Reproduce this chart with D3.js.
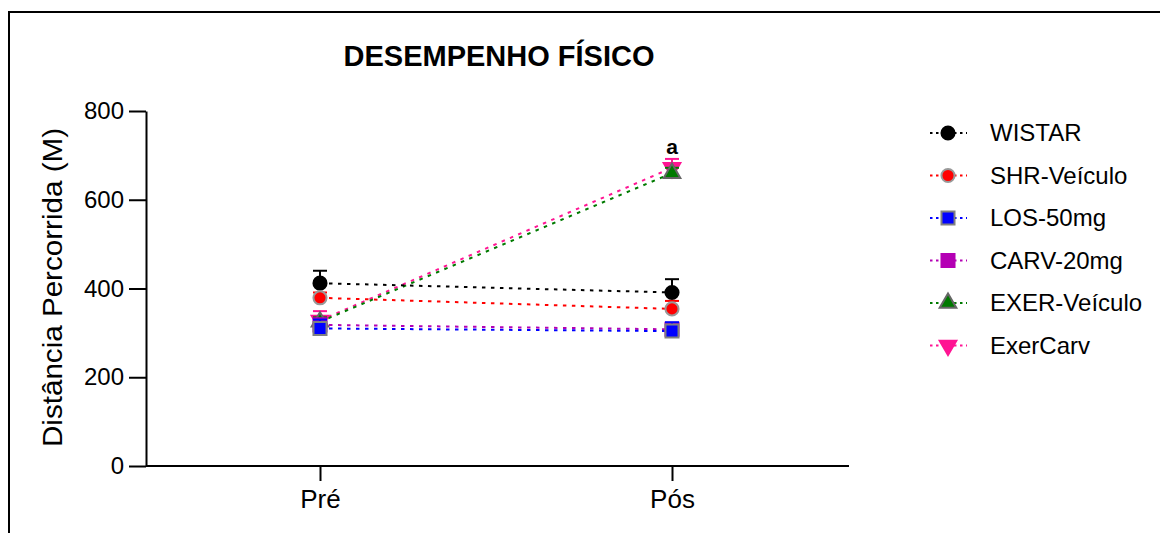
<!DOCTYPE html>
<html>
<head>
<meta charset="utf-8">
<script src="https://cdn.jsdelivr.net/npm/d3@7"></script>
<style>
  body { margin: 0; background: #fff; }
  text { font-family: "Liberation Sans", Arial, sans-serif; }
</style>
</head>
<body>
<div id="chart"></div>
<script>
// data
const timepoints = ["Pré", "Pós"];
const groups = ["WISTAR", "SHR-Veículo", "LOS-50mg", "CARV-20mg", "EXER-Veículo", "ExerCarv"];
const means = [
  [412, 391],
  [379, 354],
  [310, 304],
  [318, 308],
  [325, 660],
  [328, 672]
];
const sems = [
  [28, 30],
  [12, 18],
  [20, 20],
  [8, 8],
  [10, 12],
  [21, 20]
];
const yTicks = [0, 200, 400, 600, 800];
const annotations = [{ group: 5, t: 1, label: "a" }];

const W = 1160, H = 533;
const margin = { top: 111, left: 146, bottom: 67 };
const plotRight = 849;

const svg = d3.select("#chart").append("svg")
  .attr("width", W).attr("height", H);

// frame
svg.append("path")
  .attr("d", `M9,${H} L9,12 L${W},12`)
  .attr("fill", "none").attr("stroke", "#000").attr("stroke-width", 2);

const x = d3.scalePoint().domain(timepoints).range([320, 672]);
const y = d3.scaleLinear().domain([0, 800]).range([H - margin.bottom, margin.top]);

const colors = d3.scaleOrdinal().domain(groups)
  .range(["#000000", "#ff0000", "#0000ff", "#b400b4", "#007a00", "#ff1493"]);
const borders = d3.scaleOrdinal().domain(groups)
  .range(["#000000", "#999999", "#808080", "#b400b4", "#666666", "#ff1493"]);
const shapes = [d3.symbolCircle, d3.symbolCircle, d3.symbolSquare, d3.symbolSquare, d3.symbolTriangle, d3.symbolTriangle];
const sizes = [135, 135, 170, 170, 120, 120];
const rotations = [0, 0, 0, 0, 0, 180];
// drawing order: later groups underneath
const drawOrder = [5, 4, 0, 1, 3, 2];

// axes
const yAxis = svg.append("g")
  .attr("transform", `translate(${margin.left},0)`)
  .call(d3.axisLeft(y).tickValues(yTicks).tickSize(17).tickPadding(5).tickSizeOuter(0));
yAxis.select(".domain").attr("stroke-width", 2);
yAxis.selectAll(".tick line").attr("stroke-width", 2);
yAxis.selectAll("text").style("font-size", "24px").attr("fill", "#000");

const xAxis = svg.append("g")
  .attr("transform", `translate(0,${y(0)})`)
  .call(d3.axisBottom(x).tickSize(15).tickPadding(9).tickSizeOuter(0));
xAxis.select(".domain").attr("d", `M${margin.left},0H${plotRight}`).attr("stroke-width", 2);
xAxis.selectAll(".tick line").attr("stroke-width", 2);
xAxis.selectAll("text").style("font-size", "26px").attr("fill", "#000");

// title and axis label
svg.append("text")
  .attr("x", 499).attr("y", 66)
  .attr("text-anchor", "middle")
  .style("font-size", "29px").style("font-weight", "bold")
  .text("DESEMPENHO FÍSICO");

svg.append("text")
  .attr("transform", `translate(62,${(y(0) + y(800)) / 2 - 1}) rotate(-90)`)
  .attr("text-anchor", "middle")
  .attr("textLength", 319).attr("lengthAdjust", "spacingAndGlyphs")
  .style("font-size", "28px")
  .text("Distância Percorrida (M)");

// lines first, then error bars and markers
drawOrder.forEach(i => {
  const g = groups[i];
  const pts = timepoints.map((t, j) => ({ t, v: means[i][j] }));
  svg.append("path")
    .datum(pts)
    .attr("fill", "none")
    .attr("stroke", colors(g))
    .attr("stroke-width", 2)
    .attr("stroke-dasharray", "3.5,5.5")
    .attr("d", d3.line().x(d => x(d.t)).y(d => y(d.v)));
});

drawOrder.forEach(i => {
  const g = groups[i];
  const pts = timepoints.map((t, j) => ({ t, v: means[i][j], e: sems[i][j] }));

  pts.forEach(d => {
    const cx = x(d.t), top = y(d.v + d.e);
    svg.append("line")
      .attr("x1", cx).attr("x2", cx).attr("y1", y(d.v)).attr("y2", top)
      .attr("stroke", colors(g)).attr("stroke-width", 2);
    svg.append("line")
      .attr("x1", cx - 7).attr("x2", cx + 7).attr("y1", top).attr("y2", top)
      .attr("stroke", colors(g)).attr("stroke-width", 2);
  });

  svg.selectAll(null)
    .data(pts)
    .join("path")
      .attr("transform", d => `translate(${x(d.t)},${y(d.v)}) rotate(${rotations[i]})`)
      .attr("d", d3.symbol().type(shapes[i]).size(sizes[i]))
      .attr("fill", colors(g))
      .attr("stroke", borders(g))
      .attr("stroke-width", 2);
});

// significance mark
annotations.forEach(a => {
  svg.append("text")
    .attr("x", x(timepoints[a.t]))
    .attr("y", y(means[a.group][a.t] + sems[a.group][a.t]) - 5)
    .attr("text-anchor", "middle")
    .style("font-size", "21px").style("font-weight", "bold")
    .text(a.label);
});

// legend
const legend = svg.append("g").attr("transform", "translate(930,133)");
groups.forEach((g, i) => {
  const row = legend.append("g").attr("transform", `translate(0,${i * 42.5})`);
  row.append("line")
    .attr("x1", 0).attr("x2", 37).attr("y1", 0).attr("y2", 0)
    .attr("stroke", colors(g)).attr("stroke-width", 2)
    .attr("stroke-dasharray", "2.5,3.5");
  row.append("path")
    .attr("transform", `translate(18,0) rotate(${rotations[i]})`)
    .attr("d", d3.symbol().type(shapes[i]).size(sizes[i]))
    .attr("fill", colors(g))
    .attr("stroke", borders(g))
    .attr("stroke-width", 2);
  row.append("text")
    .attr("x", 60).attr("y", 8)
    .style("font-size", "24px")
    .text(g);
});
</script>
</body>
</html>
